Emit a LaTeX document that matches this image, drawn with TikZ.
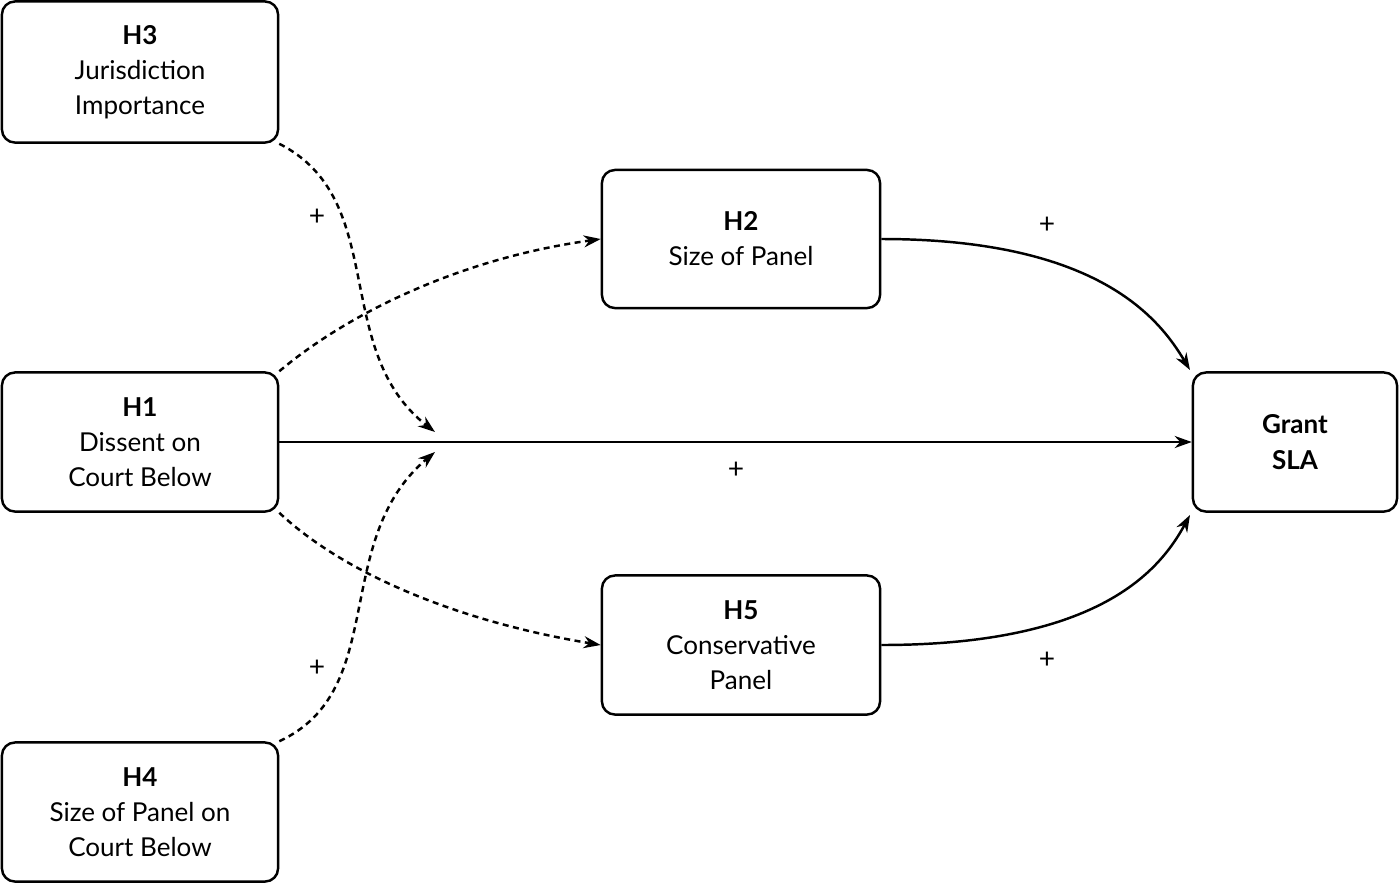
\documentclass[tikz,border=0pt]{standalone}
\usepackage{fontspec}
\setmainfont{Lato}
\usetikzlibrary{arrows.meta}
\begin{document}
\begin{tikzpicture}[x=0.01cm,y=-0.01cm,
  box/.style={draw,line width=0.7pt,rounded corners=0.13cm,minimum width=2.76cm,align=center,font=\fontsize{7.4pt}{10pt}\selectfont,inner sep=0pt},
  con/.style={line width=0.7pt,-{Stealth[length=0.17cm,width=0.12cm]}},
  dsh/.style={con,dash pattern=on 0.06cm off 0.045cm},
  pl/.style={font=\fontsize{8pt}{9pt}\selectfont}]
\useasboundingbox (0,0) rectangle (1399,884);
\node[box,minimum height=1.41cm] (h3) at (140,72) {\textbf{H3}\\Jurisdiction\\Importance};
\node[box,minimum height=1.39cm] (h1) at (140,442) {\textbf{H1}\\Dissent on\\Court Below};
\node[box,minimum height=1.39cm] (h4) at (140,812) {\textbf{H4}\\Size of Panel on\\Court Below};
\node[box,minimum width=2.78cm,minimum height=1.38cm] (h2) at (741,239) {\textbf{H2}\\Size of Panel};
\node[box,minimum width=2.78cm,minimum height=1.39cm] (h5) at (741,645) {\textbf{H5}\\Conservative\\Panel};
\node[box,minimum width=2.04cm,minimum height=1.39cm] (g) at (1295,442) {\textbf{Grant}\\\textbf{SLA}};
\coordinate (m1) at (435,432);
\coordinate (m2) at (435,452);
\draw[con] (h1.east) -- (g.west);
\draw[dsh] (h1.north east) .. controls (340,320) and (450,260) .. (h2.west);
\draw[dsh] (h1.south east) .. controls (340,570) and (450,620) .. (h5.west);
\draw[dsh] (h3.south east) .. controls (390,200) and (330,350) .. (m1);
\draw[dsh] (h4.north east) .. controls (390,690) and (330,540) .. (m2);
\draw[con] (h2.east) .. controls (1100,239) and (1160,320) .. (1190,370);
\draw[con] (h5.east) .. controls (1100,645) and (1160,570) .. (1190,515);
\node[pl] (p1) at (736,470) {+};
\node[pl] (p2) at (317,217) {+};
\node[pl] (p3) at (317,668) {+};
\node[pl] (p4) at (1047,225) {+};
\node[pl] (p5) at (1047,660) {+};
\end{tikzpicture}
\end{document}
